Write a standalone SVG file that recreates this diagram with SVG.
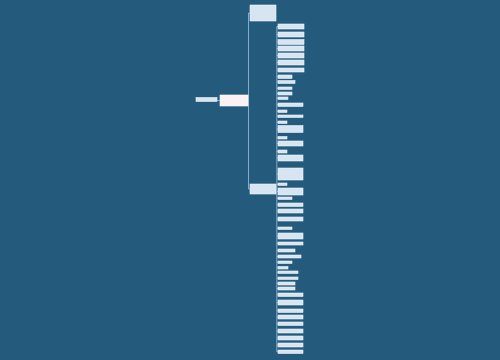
<svg xmlns="http://www.w3.org/2000/svg" width="500" height="360" viewBox="0 0 500 360">
<style>
.bg{fill:#245a7b}
.n{fill:#d7e5f3;stroke:#eef4fb;stroke-width:0.6}
.c{fill:#fbf0f4;stroke:#ffffff;stroke-width:0.6}
.l{fill:none;stroke:#9cc0de;stroke-width:0.8}
</style>
<rect class="bg" x="0" y="0" width="500" height="360"/>
<g id="connectors">
<path class="l" d="M217 100.5H220"/>
<path class="l" d="M248 100.5M248.5 13V189M248.5 13H250M248.5 189H250"/>
<path class="l" d="M276 189H276.8M276.8 26.5V352"/>
<path class="l" d="M276.8 26.5H278M276.8 34.5H278M276.8 42H278M276.8 48.5H278M276.8 55.5H278M276.8 62.5H278M276.8 70H278M276.8 76.8H278M276.8 82H278M276.8 88.3H278M276.8 93.5H278M276.8 98.3H278M276.8 104.8H278M276.8 111.3H278M276.8 116.3H278M276.8 122.3H278M276.8 129H278M276.8 137.8H278M276.8 143.5H278M276.8 151.5H278M276.8 158H278M276.8 174H278M276.8 184.3H278M276.8 191.5H278M276.8 198.3H278M276.8 204.8H278M276.8 211H278M276.8 219H278M276.8 228.3H278M276.8 236H278M276.8 243.5H278M276.8 250.5H278M276.8 256.5H278M276.8 262.3H278M276.8 267.8H278M276.8 272.3H278M276.8 278.3H278M276.8 283.5H278M276.8 288.5H278M276.8 294.8H278M276.8 302.5H278M276.8 310.8H278M276.8 317H278M276.8 323.8H278M276.8 331H278M276.8 338H278M276.8 345H278M276.8 351.8H278"/>
</g>
<g id="left"><rect class="n" x="196" y="97.5" width="21" height="4"/></g>
<g id="center"><rect class="c" x="220" y="95" width="28" height="11"/></g>
<g id="top"><rect class="n" x="250" y="5" width="26" height="16"/></g>
<g id="mid"><rect class="n" x="250" y="184" width="26" height="10"/></g>
<g id="n1"><rect class="n" x="278" y="24" width="26" height="5"/></g>
<g id="n2"><rect class="n" x="278" y="32" width="26" height="5"/></g>
<g id="n3"><rect class="n" x="278" y="39.5" width="26" height="5"/></g>
<g id="n4"><rect class="n" x="278" y="46" width="26" height="5"/></g>
<g id="n5"><rect class="n" x="278" y="53" width="26" height="5"/></g>
<g id="n6"><rect class="n" x="278" y="60" width="26" height="5"/></g>
<g id="n7"><rect class="n" x="278" y="68" width="26" height="4"/></g>
<g id="n8"><rect class="n" x="278" y="75" width="14" height="3.5"/></g>
<g id="n9"><rect class="n" x="278" y="80.5" width="17" height="3"/></g>
<g id="n10"><rect class="n" x="278" y="87" width="14" height="2.5"/></g>
<g id="n11"><rect class="n" x="278" y="92" width="14" height="3"/></g>
<g id="n12"><rect class="n" x="278" y="97" width="10" height="2.5"/></g>
<g id="n13"><rect class="n" x="278" y="103" width="25" height="3.5"/></g>
<g id="n14"><rect class="n" x="278" y="110" width="9" height="2.5"/></g>
<g id="n15"><rect class="n" x="278" y="115" width="25" height="2.5"/></g>
<g id="n16"><rect class="n" x="278" y="121" width="9" height="2.5"/></g>
<g id="n17"><rect class="n" x="278" y="125.5" width="25" height="7"/></g>
<g id="n18"><rect class="n" x="278" y="136.5" width="9" height="2.5"/></g>
<g id="n19"><rect class="n" x="278" y="141" width="25" height="5"/></g>
<g id="n20"><rect class="n" x="278" y="150" width="9" height="3"/></g>
<g id="n21"><rect class="n" x="278" y="155" width="25" height="6"/></g>
<g id="n22"><rect class="n" x="278" y="168" width="25" height="12"/></g>
<g id="n23"><rect class="n" x="278" y="183" width="9" height="2.5"/></g>
<g id="n24"><rect class="n" x="278" y="188" width="25" height="7"/></g>
<g id="n25"><rect class="n" x="278" y="197" width="14" height="2.5"/></g>
<g id="n26"><rect class="n" x="278" y="203" width="25" height="3.5"/></g>
<g id="n27"><rect class="n" x="278" y="209" width="25" height="4"/></g>
<g id="n28"><rect class="n" x="278" y="217" width="25" height="4"/></g>
<g id="n29"><rect class="n" x="278" y="227" width="14" height="2.5"/></g>
<g id="n30"><rect class="n" x="278" y="233" width="25" height="6"/></g>
<g id="n31"><rect class="n" x="278" y="242" width="25" height="3"/></g>
<g id="n32"><rect class="n" x="278" y="249" width="17" height="3"/></g>
<g id="n33"><rect class="n" x="278" y="255" width="23" height="3"/></g>
<g id="n34"><rect class="n" x="278" y="261" width="14" height="2.5"/></g>
<g id="n35"><rect class="n" x="278" y="266.5" width="10" height="2.5"/></g>
<g id="n36"><rect class="n" x="278" y="271" width="20" height="2.5"/></g>
<g id="n37"><rect class="n" x="278" y="277" width="20" height="2.5"/></g>
<g id="n38"><rect class="n" x="278" y="282" width="17" height="3"/></g>
<g id="n39"><rect class="n" x="278" y="287" width="17" height="3"/></g>
<g id="n40"><rect class="n" x="278" y="293" width="25" height="3.5"/></g>
<g id="n41"><rect class="n" x="278" y="300" width="25" height="5"/></g>
<g id="n42"><rect class="n" x="278" y="309" width="25" height="3.5"/></g>
<g id="n43"><rect class="n" x="278" y="315" width="25" height="4"/></g>
<g id="n44"><rect class="n" x="278" y="322" width="25" height="3.5"/></g>
<g id="n45"><rect class="n" x="278" y="329" width="25" height="4"/></g>
<g id="n46"><rect class="n" x="278" y="336" width="25" height="4"/></g>
<g id="n47"><rect class="n" x="278" y="343" width="25" height="4"/></g>
<g id="n48"><rect class="n" x="278" y="350" width="25" height="3.5"/></g>
</svg>
